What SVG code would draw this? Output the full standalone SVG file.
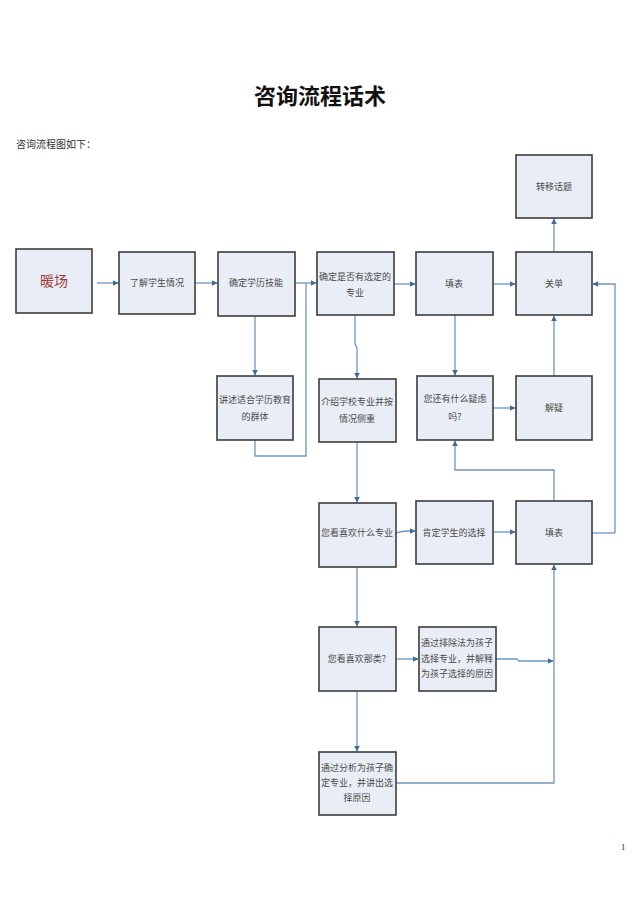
<svg xmlns="http://www.w3.org/2000/svg" width="640" height="905" viewBox="0 0 640 905">
<defs>
<marker id="ah" viewBox="0 0 10 10" refX="9" refY="5" markerWidth="6" markerHeight="6" orient="auto" markerUnits="userSpaceOnUse">
<path d="M0,0 L10,5 L0,10 z" fill="#3f6c9c"/>
</marker>
<style>
.box{fill:#e9eef6;stroke:#3c3c3c;stroke-width:1.6}
.t{font-family:"Noto Sans CJK SC","Liberation Serif",serif;font-size:9px;fill:#4a4a4a;text-anchor:middle}
.c{fill:none;stroke:#6f95bf;stroke-width:1.3}
.a{marker-end:url(#ah)}
</style>
</defs>
<rect width="640" height="905" fill="#ffffff"/>
<text x="320" y="104" font-family="Noto Sans CJK SC, sans-serif" font-size="22" font-weight="bold" text-anchor="middle" fill="#111">咨询流程话术</text>
<text x="16" y="148" font-family="Noto Sans CJK SC, serif" font-size="10" fill="#333">咨询流程图如下：</text>
<text x="621" y="850" font-family="Liberation Serif, serif" font-size="9" fill="#333">1</text>

<g id="connectors">
<path class="c a" d="M97,283 H118"/>
<path class="c a" d="M195,283 H217"/>
<path class="c a" d="M295,283 H316"/>
<path class="c a" d="M255,316 V375"/>
<path class="c" d="M255,440 V456 H306 V283"/>
<path class="c a" d="M394,284 H415"/>
<path class="c a" d="M493,284 H515"/>
<path class="c a" d="M554,252 V219"/>
<path class="c a" d="M615,533 V284 H593"/>
<path class="c" d="M592,533 H615"/>
<path class="c a" d="M355,315 V344 L357,348 V378"/>
<path class="c a" d="M455,315 V375"/>
<path class="c a" d="M493,408 H515"/>
<path class="c a" d="M554,376 V316"/>
<path class="c a" d="M554,501 V470 H455 V441"/>
<path class="c a" d="M357,442 V502"/>
<path class="c a" d="M396,533 Q402,531 408,531 H415"/>
<path class="c a" d="M493,532 H515"/>
<path class="c a" d="M357,567 V626"/>
<path class="c a" d="M396,659 H418"/>
<path class="c a" d="M496,659 H517 L519,661 H553"/>
<path class="c a" d="M357,691 V751"/>
<path class="c a" d="M396,783 H554 V565"/>
</g>

<g id="n1"><rect class="box" x="16" y="249" width="76" height="64"/><text x="54" y="286" font-family="Noto Sans CJK SC, serif" font-size="14" fill="#a33a3a" text-anchor="middle">暖场</text></g>
<g id="n2"><rect class="box" x="119" y="252" width="76" height="62"/><text class="t" x="157" y="286">了解学生情况</text></g>
<g id="n3"><rect class="box" x="218" y="252" width="77" height="64"/><text class="t" x="256" y="286">确定学历技能</text></g>
<g id="n4"><rect class="box" x="317" y="252" width="77" height="63"/><text class="t" x="355" y="280">确定是否有选定的</text><text class="t" x="355" y="296">专业</text></g>
<g id="n5"><rect class="box" x="416" y="252" width="77" height="63"/><text class="t" x="454" y="287">填表</text></g>
<g id="n6"><rect class="box" x="516" y="252" width="76" height="63"/><text class="t" x="554" y="287">关单</text></g>
<g id="n7"><rect class="box" x="516" y="155" width="76" height="63"/><text class="t" x="554" y="190">转移话题</text></g>
<g id="n8"><rect class="box" x="217" y="376" width="76" height="64"/><text class="t" x="255" y="403">讲述适合学历教育</text><text class="t" x="255" y="420">的群体</text></g>
<g id="n9"><rect class="box" x="319" y="379" width="77" height="63"/><text class="t" x="357" y="405">介绍学校专业并按</text><text class="t" x="357" y="422">情况侧重</text></g>
<g id="n10"><rect class="box" x="417" y="376" width="76" height="64"/><text class="t" x="455" y="402">您还有什么疑虑</text><text class="t" x="455" y="420">吗?</text></g>
<g id="n11"><rect class="box" x="516" y="376" width="76" height="64"/><text class="t" x="554" y="411">解疑</text></g>
<g id="n12"><rect class="box" x="319" y="503" width="77" height="64"/><text class="t" x="357" y="536">您看喜欢什么专业</text></g>
<g id="n13"><rect class="box" x="416" y="501" width="77" height="63"/><text class="t" x="454" y="536">肯定学生的选择</text></g>
<g id="n14"><rect class="box" x="516" y="501" width="76" height="63"/><text class="t" x="554" y="536">填表</text></g>
<g id="n15"><rect class="box" x="319" y="627" width="77" height="64"/><text class="t" x="357" y="662">您看喜欢那类?</text></g>
<g id="n16"><rect class="box" x="419" y="627" width="77" height="64"/><text class="t" x="457" y="646">通过排除法为孩子</text><text class="t" x="457" y="662">选择专业，并解释</text><text class="t" x="457" y="677">为孩子选择的原因</text></g>
<g id="n17"><rect class="box" x="319" y="752" width="77" height="63"/><text class="t" x="357" y="771">通过分析为孩子确</text><text class="t" x="357" y="786">定专业，并讲出选</text><text class="t" x="357" y="801">择原因</text></g>
</svg>
